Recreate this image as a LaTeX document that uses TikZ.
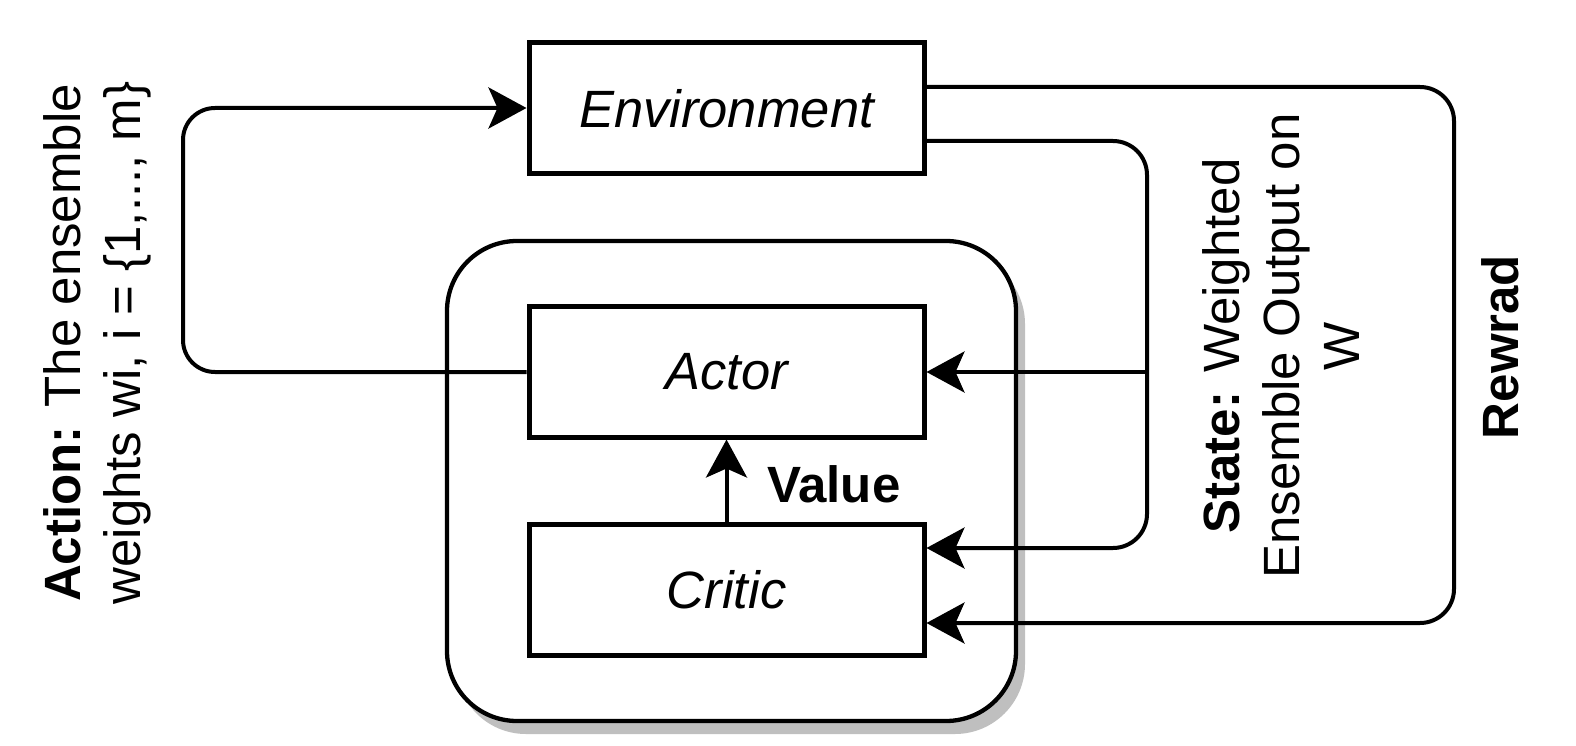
\documentclass[tikz,border=0pt]{standalone}
\usepackage{fontspec}
\setmainfont{Liberation Sans}
\usetikzlibrary{arrows.meta,shadows,calc}
\begin{document}
\begin{tikzpicture}[x=1pt,y=-1pt,
  every node/.style={font=\fontsize{51}{60}\selectfont, inner sep=0pt},
  block/.style={draw, line width=5pt, fill=white, minimum width=395pt, minimum height=131pt,
    font=\fontsize{52.5}{60}\selectfont\itshape},
  group/.style={draw, line width=4.3pt, fill=white, rounded corners=70pt,
    minimum width=569pt, minimum height=480pt,
    drop shadow={shadow xshift=9pt, shadow yshift=-13pt, fill=black!25, opacity=1}},
  conn/.style={line width=4pt, -{Stealth[length=38pt, width=41pt, inset=9pt]}},
  vlabel/.style={rotate=90, align=center}]
\useasboundingbox (0,0) rectangle (1576,746);

% agent container and the three blocks
\node[group] (agent) at (731.5,481) {};
\node[block] (env) at (726.5,108.5) {Environment};
\node[block] (actor) at (726.5,371.5) {Actor};
\node[block] (critic) at (726.5,590) {Critic};

% bend points of the loops
\coordinate (rTop) at (1454,87);
\coordinate (rBot) at (1454,623);
\coordinate (sTop) at (1147,141);
\coordinate (sMid) at (1147,372);
\coordinate (sBot) at (1147,548);
\coordinate (aTop) at (183,108);
\coordinate (aBot) at (183,372);

% reward loop
\draw[conn, rounded corners=34pt] (env.east |- rTop) -- (rTop) -- (rBot) -- (critic.east |- rBot);
% state loop with branch to the actor
\draw[conn, rounded corners=34pt] (env.east |- sTop) -- (sTop) -- (sBot) -- (critic.east |- sBot);
\draw[conn] (sMid) -- (actor.east |- sMid);
% action loop
\draw[conn, rounded corners=32pt] (actor.west |- aBot) -- (aBot) -- (aTop) -- (env.west |- aTop);
% value from critic to actor
\draw[conn] (critic.north) -- (actor.south);

% labels
\node[anchor=base west, font=\fontsize{51}{60}\selectfont\bfseries] (value) at (767,502) {Value};
\node[vlabel] (action) at (97,343) {\textbf{Action:} The ensemble\\weights wi, i = \{1,..., m\}};
\node[vlabel] (state) at (1281,346) {\textbf{State:} Weighted\\Ensemble Output on\\W};
\node[vlabel, font=\fontsize{51}{60}\selectfont\bfseries] (reward) at (1500,347) {Rewrad};
\end{tikzpicture}
\end{document}
